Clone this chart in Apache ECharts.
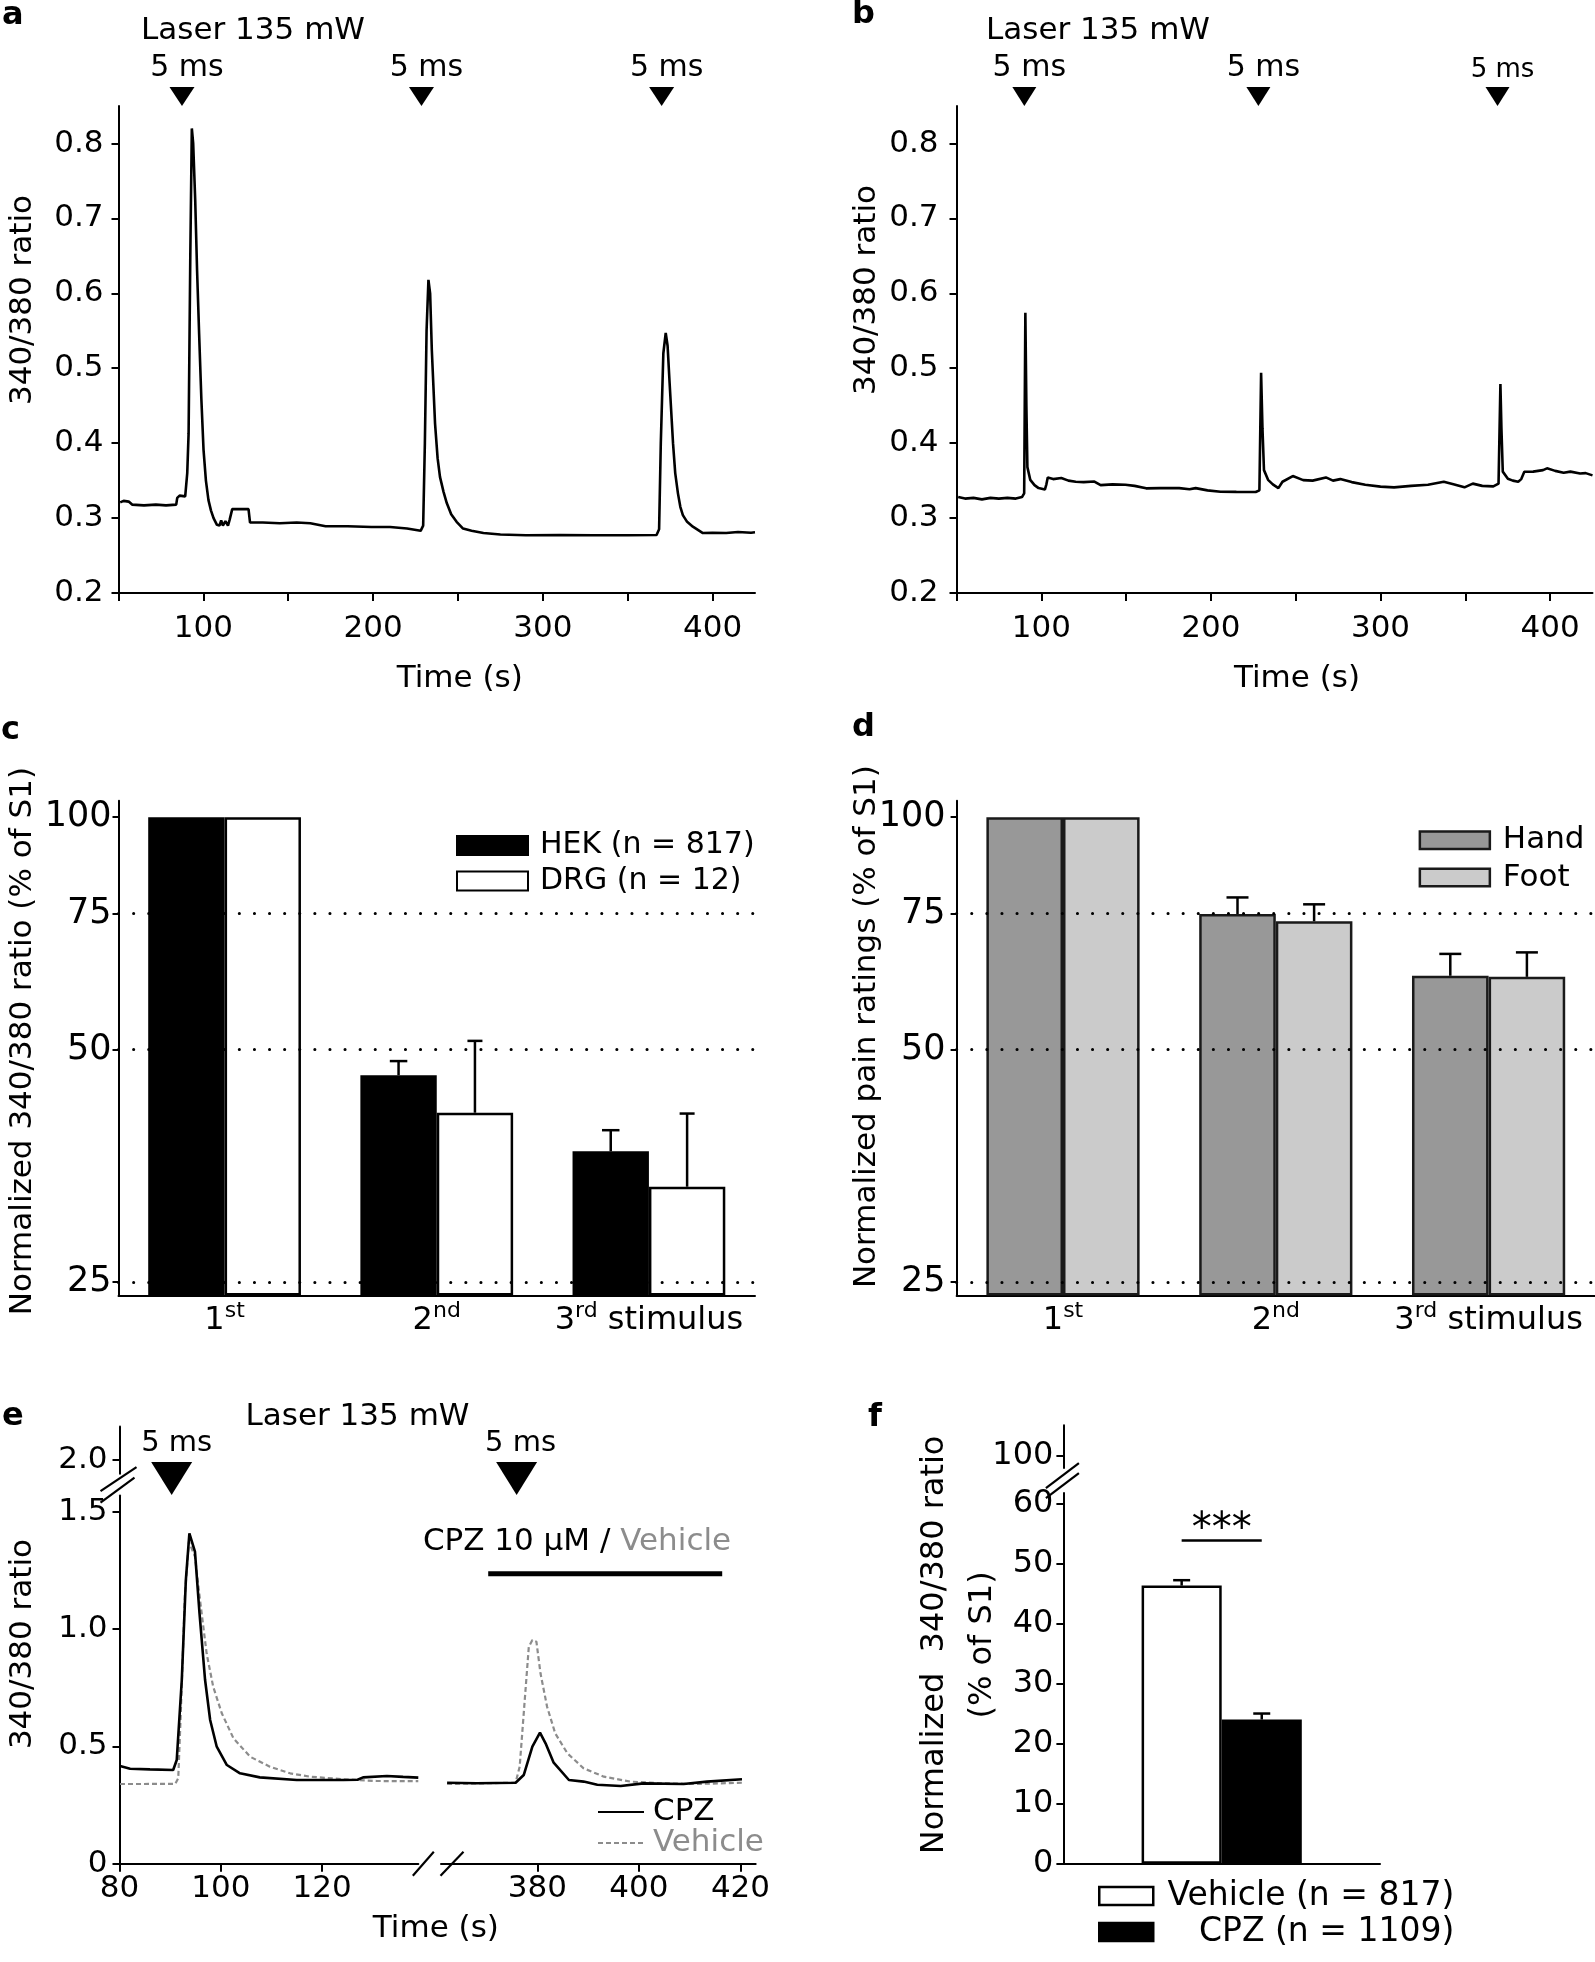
<!DOCTYPE html>
<html>
<head>
<meta charset="utf-8">
<title>Figure</title>
<script src="https://cdn.jsdelivr.net/npm/echarts@6.0.0/dist/echarts.min.js"></script>
<style>
html,body{margin:0;padding:0;background:#ffffff;}
#chart{width:1595px;height:1962px;}
</style>
</head>
<body>
<div id="chart"></div>
<script>
// ================= DATA =================
// Panel a: 340/380 ratio trace (time s, ratio)
const traceA = [[51,0.321],[53,0.323],[56,0.322],[58,0.318],[65,0.317],[72,0.318],[78,0.317],[84,0.318],[84.6,0.327],[86,0.330],[89.3,0.329],[90.5,0.36],[91.3,0.413],[92.3,0.65],[93.2,0.82],[94.0,0.80],[95.2,0.724],[96.3,0.63],[97.5,0.546],[98.8,0.46],[100.1,0.391],[101.5,0.35],[103,0.324],[104.5,0.31],[106,0.30],[108,0.291],[109.5,0.290],[110.5,0.297],[111.5,0.290],[113,0.296],[114.5,0.290],[115.5,0.298],[117,0.312],[126.6,0.312],[127.5,0.294],[135,0.294],[145,0.293],[155,0.294],[163,0.293],[172,0.289],[185,0.289],[199,0.288],[210,0.288],[220,0.286],[228,0.283],[229.5,0.29],[230.5,0.40],[231.5,0.55],[232.6,0.618],[233.6,0.60],[234.6,0.524],[236.5,0.426],[238,0.38],[239.4,0.355],[241.5,0.335],[243.4,0.32],[246,0.305],[249.2,0.295],[253,0.286],[258,0.283],[265,0.280],[275,0.278],[290,0.277],[310,0.2775],[330,0.277],[350,0.277],[367,0.2775],[368.5,0.285],[369.5,0.40],[371,0.52],[372.4,0.547],[373.5,0.53],[374.7,0.48],[376.7,0.40],[378,0.36],[379.6,0.333],[381,0.315],[382.5,0.304],[385,0.295],[388.4,0.2885],[394.3,0.280],[400,0.2805],[408,0.280],[415,0.2815],[422.7,0.2805],[425,0.281]];
const stimA = [87.4, 228.5, 370];

// Panel b
const traceB = [[51,0.328],[55,0.326],[60,0.327],[65,0.325],[70,0.327],[75,0.326],[80,0.327],[85,0.326],[88.6,0.328],[89.9,0.333],[90.6,0.574],[91.2,0.45],[91.8,0.368],[93.5,0.351],[96,0.344],[98.4,0.340],[102.1,0.338],[103.0,0.345],[103.8,0.354],[107,0.352],[111.8,0.3535],[116,0.350],[120.3,0.3485],[125,0.348],[131.3,0.3488],[135,0.344],[142,0.345],[149.6,0.3445],[155,0.343],[161.8,0.3397],[170,0.340],[181.3,0.340],[187.4,0.3384],[191,0.340],[198,0.337],[205.7,0.3352],[215,0.335],[226.4,0.3348],[228.6,0.337],[229.6,0.494],[230.4,0.42],[231.3,0.364],[233.7,0.351],[236.5,0.345],[239.8,0.340],[242.2,0.3485],[248.3,0.3561],[254.4,0.3507],[260,0.350],[267.8,0.3543],[272,0.350],[276.3,0.352],[283,0.348],[291,0.3445],[300,0.342],[308,0.341],[318,0.343],[328,0.3445],[337.3,0.3485],[343,0.345],[349.5,0.341],[354.4,0.346],[360,0.343],[366.5,0.3423],[369.6,0.346],[370.7,0.479],[371.3,0.42],[372.1,0.362],[375.1,0.3525],[378,0.350],[381.2,0.3485],[383,0.352],[384.8,0.3618],[390,0.362],[395.8,0.364],[398.2,0.3664],[403,0.363],[408,0.3605],[412,0.362],[417.7,0.3595],[421,0.360],[425,0.357]];
const stimB = [90, 228, 369];

const xTicksAB = [50, 100, 150, 200, 250, 300, 350, 400];
const xLabelsAB = [100, 200, 300, 400];
const yTicksAB = [0.2, 0.3, 0.4, 0.5, 0.6, 0.7, 0.8];

// Panels c, d
const stimuli = ['1st', '2nd', '3rd stimulus'];
const hek = [100, 46.3, 36.9];
const hekSem = [0, 2.0, 2.4];
const drg = [100, 41.4, 33.2];
const drgSem = [0, 9.9, 8.1];
const hand = [100, 74.9, 62.3];
const handSem = [0, 3.8, 4.2];
const foot = [100, 73.3, 62.1];
const footSem = [0, 3.8, 4.7];
const pctTicks = [25, 50, 75, 100];
const refLines = [25, 50, 75];

// Panel e
const cpzLeft = [[80.1,0.4165],[82.1,0.405],[86,0.402],[90.6,0.3994],[91.3,0.442],[92.3,0.783],[93.1,1.209],[93.8,1.408],[94.9,1.33],[95.8,1.067],[96.9,0.783],[97.9,0.6125],[99.2,0.4987],[101.2,0.4207],[103.8,0.3853],[107.7,0.368],[115,0.3568],[124.2,0.3568],[127,0.358],[128.1,0.368],[132.8,0.3738],[136,0.370],[139,0.367]];
const vehLeft = [[80.1,0.3397],[91,0.340],[91.6,0.364],[92.1,0.641],[92.9,1.138],[93.7,1.373],[94.9,1.309],[95.9,1.124],[97.2,0.897],[98.5,0.7545],[100.2,0.641],[102.5,0.5345],[105.8,0.456],[109.7,0.4135],[113.7,0.3853],[117.6,0.371],[124.2,0.360],[130.8,0.3525],[139,0.3518]];
const cpzRight = [[362.2,0.3453],[368,0.343],[375.7,0.3453],[377.3,0.378],[379,0.4987],[380.5,0.5584],[381.6,0.513],[383.2,0.4305],[386.2,0.3568],[389.1,0.350],[391.8,0.3368],[396.4,0.331],[400.9,0.3425],[408.8,0.340],[413.4,0.350],[420.3,0.3597]];
const vehRight = [[362.2,0.340],[368,0.342],[375.7,0.3453],[376.5,0.4135],[377.3,0.641],[378.3,0.925],[379,0.9535],[379.8,0.9464],[380.6,0.8116],[381.9,0.669],[383.5,0.5558],[385.9,0.4706],[389.1,0.4066],[393.1,0.3709],[398.3,0.350],[404.9,0.3425],[411.5,0.340],[420.3,0.345]];
const stimE = [90.3, 375.9];
const cpzPeriod = [370.3, 416.4];
const eXLeftTicks = [80, 100, 120];
const eXRightTicks = [380, 400, 420];
const eYTicks = [0, 0.5, 1, 1.5];
const eYTopTicks = [2];

// Panel f
const fGroups = ['Vehicle (n = 817)', 'CPZ (n = 1109)'];
const fMeans = [46.3, 24.0];
const fSem = [0.9, 1.0];
const fYTicks = [0, 10, 20, 30, 40, 50, 60];
const fYTopTicks = [100];
const fSig = '***';

// ================= STYLE / HELPERS =================
const F = 'DejaVu Sans';
const MARK_AB = 0.8627;   // marker row above the a/b plots (axis units)
const MARK_E = 1.642;     // marker row in panel e (axis units)
const BAR_E = 1.236;      // drug-application bar level in panel e
const SIG_LEVEL = 53.8;   // significance bracket level in panel f

function isObj(o) { return o && typeof o === 'object' && !Array.isArray(o); }
function merge(a, b) {
  const r = Object.assign({}, a);
  for (const k in b) {
    if (isObj(b[k]) && isObj(a[k])) r[k] = merge(a[k], b[k]);
    else r[k] = b[k];
  }
  return r;
}
const AXBASE = {
  axisLine: { show: true, onZero: false, lineStyle: { color: '#000', width: 2 } },
  axisTick: { show: true, inside: false, length: 7, lineStyle: { color: '#000', width: 2 } },
  axisLabel: { show: true, color: '#000', fontFamily: F, fontSize: 31 },
  splitLine: { show: false },
  splitArea: { show: false },
  minorTick: { show: false },
  nameTextStyle: { color: '#000', fontFamily: F, fontSize: 31 },
  nameMoveOverlap: false
};
function valAxis(o) { return merge(merge(AXBASE, { type: 'value' }), o); }
function logAxis(o) { return merge(merge(AXBASE, { type: 'log', logBase: 10 }), o); }
function catAxis(o) { return merge(merge(AXBASE, { type: 'category' }), o); }
function hidden(gi, mn, mx) { return { gridIndex: gi, type: 'value', min: mn, max: mx, show: false }; }

function supFmt(v) {
  const m = /^(\d)(st|nd|rd|th)(.*)$/.exec(v);
  if (!m) return v;
  return '{n|' + m[1] + '}{s|' + m[2] + '}' + (m[3] ? '{n|' + m[3] + '}' : '');
}
const SUPRICH = {
  n: { fontFamily: F, fontSize: 32, color: '#000', lineHeight: 40 },
  s: { fontFamily: F, fontSize: 22, color: '#000', lineHeight: 20, verticalAlign: 'top' }
};

function errRender(side, frac, capW) {
  return function (params, api) {
    const i = api.value(0), v = api.value(1), top = api.value(2);
    if (!(top > v)) return null;
    const band = api.size([1, 0], [i, v])[0];
    const p0 = api.coord([i, v]), p1 = api.coord([i, top]);
    const x = p0[0] + side * frac * band;
    return {
      type: 'group', children: [
        { type: 'line', shape: { x1: x, y1: p0[1], x2: x, y2: p1[1] }, style: { stroke: '#000', lineWidth: 2.5 } },
        { type: 'line', shape: { x1: x - capW / 2, y1: p1[1], x2: x + capW / 2, y2: p1[1] }, style: { stroke: '#000', lineWidth: 2.5 } }
      ]
    };
  };
}
function errData(vals, sems) { return vals.map((v, i) => [i, v, v + sems[i]]); }

function markerSeries(xi, yi, times, level, size, fontSizes, offX) {
  return {
    type: 'scatter', xAxisIndex: xi, yAxisIndex: yi, clip: false, silent: true,
    data: times.map((t, k) => ({ value: [t, level],
      label: { fontSize: fontSizes[k], lineHeight: fontSizes[k] } })),
    symbol: 'triangle', symbolRotate: 180, symbolSize: size,
    itemStyle: { color: '#000', opacity: 1 },
    label: { show: true, position: 'top', distance: 4, offset: [offX, 0], formatter: '5 ms',
      fontFamily: F, color: '#000' }
  };
}

const dotted = {
  silent: true, symbol: ['none', 'none'], label: { show: false }, z: 6,
  lineStyle: { color: '#000', width: 3, type: [0.1, 15], cap: 'round' },
  emphasis: { disabled: true },
  data: refLines.map(v => ({ yAxis: v }))
};

// ================= OPTION =================
const option = {
  animation: false,
  backgroundColor: '#ffffff',
  textStyle: { fontFamily: F },
  grid: [
    { left: 118.5, top: 106, width: 636.5, height: 487 },          // 0 a
    { left: 956.5, top: 106, width: 636, height: 487 },            // 1 b
    { left: 118.5, top: 800.8, width: 636.5, height: 494.7 },      // 2 c
    { left: 956.6, top: 800.8, width: 638.4, height: 494.7 },      // 3 d
    { left: 119.5, top: 1495.4, width: 298.8, height: 368.3 },     // 4 e lower left
    { left: 441, top: 1495.4, width: 314.7, height: 368.3 },       // 5 e lower right
    { left: 119.5, top: 1426.4, width: 40, height: 47.4 },         // 6 e upper
    { left: 1063.4, top: 1493.1, width: 316.6, height: 370.6 },    // 7 f lower
    { left: 1063.4, top: 1425.3, width: 40, height: 42.8 }         // 8 f upper
  ].map(g => Object.assign({ outerBoundsMode: 'none', containLabel: false }, g)),
  xAxis: [
    valAxis({ gridIndex: 0, min: 50, max: 425, axisTick: { customValues: xTicksAB, length: 8 },
      axisLabel: { customValues: xLabelsAB, margin: 20 },
      name: 'Time (s)', nameLocation: 'middle', nameGap: 70, nameTextStyle: { padding: [0, 0, 0, 46] } }),
    valAxis({ gridIndex: 1, min: 50, max: 425, axisTick: { customValues: xTicksAB, length: 8 },
      axisLabel: { customValues: xLabelsAB, margin: 20 },
      name: 'Time (s)', nameLocation: 'middle', nameGap: 70, nameTextStyle: { padding: [0, 0, 0, 45] } }),
    catAxis({ gridIndex: 2, data: stimuli, axisTick: { show: false },
      axisLabel: { interval: 0, formatter: supFmt, rich: SUPRICH, margin: 5 } }),
    catAxis({ gridIndex: 3, data: stimuli, axisTick: { show: false },
      axisLabel: { interval: 0, formatter: supFmt, rich: SUPRICH, margin: 5 } }),
    valAxis({ gridIndex: 4, min: 80, max: 139, axisTick: { customValues: eXLeftTicks, length: 8 },
      axisLabel: { customValues: eXLeftTicks, margin: 10 },
      name: 'Time (s)', nameLocation: 'middle', nameGap: 50, nameTextStyle: { padding: [0, 0, 0, 334] } }),
    valAxis({ gridIndex: 5, min: 361, max: 423, axisTick: { customValues: eXRightTicks, length: 8 },
      axisLabel: { customValues: eXRightTicks, margin: 10 } }),
    hidden(6, 0, 1),
    catAxis({ gridIndex: 7, data: [''], axisTick: { show: false }, axisLabel: { show: false } }),
    hidden(8, 0, 1)
  ],
  yAxis: [
    valAxis({ gridIndex: 0, min: 0.2, max: 0.85, axisTick: { customValues: yTicksAB },
      axisLabel: { customValues: yTicksAB, formatter: v => v.toFixed(1), margin: 15 },
      name: '340/380 ratio', nameLocation: 'middle', nameGap: 80, nameTextStyle: { padding: [0, 0, 0, 99] } }),
    valAxis({ gridIndex: 1, min: 0.2, max: 0.85, axisTick: { customValues: yTicksAB },
      axisLabel: { customValues: yTicksAB, formatter: v => v.toFixed(1), margin: 18 },
      name: '340/380 ratio', nameLocation: 'middle', nameGap: 74, nameTextStyle: { padding: [0, 0, 0, 119] } }),
    logAxis({ gridIndex: 2, min: 24, max: 105, startValue: 24, axisTick: { customValues: pctTicks, length: 6 },
      axisLabel: { customValues: pctTicks, margin: 7, fontSize: 35 },
      name: 'Normalized 340/380 ratio (% of S1)', nameLocation: 'middle', nameGap: 80, nameTextStyle: { padding: [0, 0, 0, 14] } }),
    logAxis({ gridIndex: 3, min: 24, max: 105, startValue: 24, axisTick: { customValues: pctTicks, length: 6 },
      axisLabel: { customValues: pctTicks, margin: 11, fontSize: 35 },
      name: 'Normalized pain ratings (% of S1)', nameLocation: 'middle', nameGap: 74, nameTextStyle: { padding: [0, 0, 0, 43] } }),
    valAxis({ gridIndex: 4, min: 0, max: 1.57, axisTick: { customValues: eYTicks },
      axisLabel: { customValues: eYTicks, formatter: v => (v === 0 ? '0' : v.toFixed(1)), margin: 12 },
      name: '340/380 ratio', nameLocation: 'middle', nameGap: 81, nameTextStyle: { padding: [0, 0, 0, 71] } }),
    hidden(5, 0, 1.57),
    valAxis({ gridIndex: 6, min: 1.94, max: 2.142, axisTick: { customValues: eYTopTicks },
      axisLabel: { customValues: eYTopTicks, formatter: v => v.toFixed(1), margin: 12 } }),
    valAxis({ gridIndex: 7, min: 0, max: 61.7, axisTick: { customValues: fYTicks },
      axisLabel: { customValues: fYTicks, margin: 10, fontSize: 32 },
      name: 'Normalized  340/380 ratio\n(% of S1)', nameLocation: 'middle', nameGap: 56,
      nameTextStyle: { fontSize: 32, lineHeight: 48.5, padding: [0, 0, 0, 67] } }),
    valAxis({ gridIndex: 8, min: 98, max: 105.13, axisTick: { customValues: fYTopTicks },
      axisLabel: { customValues: fYTopTicks, margin: 10, fontSize: 32 } })
  ],
  legend: [
    { data: ['HEK (n = 817)', 'DRG (n = 12)'], orient: 'vertical', left: 456, top: 830.5, padding: 0,
      icon: 'rect', itemWidth: 71, itemHeight: 19, itemGap: 5.5, selectedMode: false,
      itemStyle: { borderColor: '#000', borderWidth: 2 },
      textStyle: { fontFamily: F, fontSize: 30, color: '#000', lineHeight: 30, padding: [0, 0, 0, 7] } },
    { data: ['Hand', 'Foot'], orient: 'vertical', left: 1418.6, top: 824.8, padding: 0,
      icon: 'rect', itemWidth: 70, itemHeight: 17.5, itemGap: 6.2, selectedMode: false,
      itemStyle: { borderColor: '#1a1a1a', borderWidth: 2.5 },
      textStyle: { fontFamily: F, fontSize: 31, color: '#000', lineHeight: 30, padding: [0, 0, 0, 8] } },
    { data: [{ name: 'CPZ', textStyle: { color: '#000' } }, { name: 'Vehicle', textStyle: { color: '#8c8c8c' } }],
      orient: 'vertical', left: 597, top: 1796.5, padding: 0, itemWidth: 46, itemHeight: 14, itemGap: 0,
      selectedMode: false, itemStyle: { opacity: 0 },
      textStyle: { fontFamily: F, fontSize: 31, lineHeight: 27, padding: [0, 0, 0, 4] } },
    { data: fGroups, orient: 'vertical', left: 1098, top: 1878, padding: 0, icon: 'rect',
      itemWidth: 54, itemHeight: 18, itemGap: 0, selectedMode: false,
      itemStyle: { borderColor: '#000', borderWidth: 2.5 },
      formatter: name => '{r|' + name + '}',
      textStyle: { fontFamily: F, fontSize: 33, color: '#000', lineHeight: 36,
        rich: { r: { fontFamily: F, fontSize: 33, color: '#000', width: 296, align: 'right', lineHeight: 36 } } } }
  ],
  series: [
    // ---- a ----
    { type: 'line', xAxisIndex: 0, yAxisIndex: 0, data: traceA, symbol: 'none', showSymbol: false, silent: true,
      lineStyle: { color: '#000', width: 2.6 } },
    markerSeries(0, 0, stimA, MARK_AB, [25, 19], [30, 30, 30], 5),
    // ---- b ----
    { type: 'line', xAxisIndex: 1, yAxisIndex: 1, data: traceB, symbol: 'none', showSymbol: false, silent: true,
      lineStyle: { color: '#000', width: 2.6 } },
    markerSeries(1, 1, stimB, MARK_AB, [24, 19], [30, 30, 26], 5),
    // ---- c ----
    { type: 'bar', name: 'HEK (n = 817)', xAxisIndex: 2, yAxisIndex: 2, data: hek, barWidth: '36%', barGap: '0%',
      itemStyle: { color: '#000', borderColor: '#000', borderWidth: 2 }, markLine: dotted, silent: true },
    { type: 'bar', name: 'DRG (n = 12)', xAxisIndex: 2, yAxisIndex: 2, data: drg, barWidth: '36%', barGap: '0%',
      itemStyle: { color: '#fff', borderColor: '#000', borderWidth: 2.5 }, silent: true },
    { type: 'custom', xAxisIndex: 2, yAxisIndex: 2, data: errData(hek, hekSem), renderItem: errRender(-1, 0.18, 17.5), silent: true, z: 4 },
    { type: 'custom', xAxisIndex: 2, yAxisIndex: 2, data: errData(drg, drgSem), renderItem: errRender(1, 0.18, 15), silent: true, z: 4 },
    // ---- d ----
    { type: 'bar', name: 'Hand', xAxisIndex: 3, yAxisIndex: 3, data: hand, barWidth: '36%', barGap: '0%',
      itemStyle: { color: '#989898', borderColor: '#1a1a1a', borderWidth: 2.5 }, markLine: dotted, silent: true },
    { type: 'bar', name: 'Foot', xAxisIndex: 3, yAxisIndex: 3, data: foot, barWidth: '36%', barGap: '0%',
      itemStyle: { color: '#cbcbcb', borderColor: '#1a1a1a', borderWidth: 2.5 }, silent: true },
    { type: 'custom', xAxisIndex: 3, yAxisIndex: 3, data: errData(hand, handSem), renderItem: errRender(-1, 0.18, 22), silent: true, z: 4 },
    { type: 'custom', xAxisIndex: 3, yAxisIndex: 3, data: errData(foot, footSem), renderItem: errRender(1, 0.18, 22), silent: true, z: 4 },
    // ---- e ----
    { type: 'line', name: 'Vehicle', xAxisIndex: 4, yAxisIndex: 4, data: vehLeft, symbol: 'none', silent: true,
      itemStyle: { color: '#8c8c8c' }, lineStyle: { color: '#8c8c8c', width: 2.2, type: [5, 3] } },
    { type: 'line', name: 'CPZ', xAxisIndex: 4, yAxisIndex: 4, data: cpzLeft, symbol: 'none', silent: true,
      itemStyle: { color: '#000' }, lineStyle: { color: '#000', width: 2.6 } },
    { type: 'line', name: 'Vehicle', xAxisIndex: 5, yAxisIndex: 5, data: vehRight, symbol: 'none', silent: true,
      itemStyle: { color: '#8c8c8c' }, lineStyle: { color: '#8c8c8c', width: 2.2, type: [5, 3] } },
    { type: 'line', name: 'CPZ', xAxisIndex: 5, yAxisIndex: 5, data: cpzRight, symbol: 'none', silent: true,
      itemStyle: { color: '#000' }, lineStyle: { color: '#000', width: 2.6 } },
    { type: 'line', xAxisIndex: 5, yAxisIndex: 5, data: cpzPeriod.map(t => [t, BAR_E]), symbol: 'none', silent: true,
      itemStyle: { color: '#000' }, lineStyle: { color: '#000', width: 5 } },
    markerSeries(4, 4, [stimE[0]], MARK_E, [41, 33], [29], 5),
    markerSeries(5, 5, [stimE[1]], MARK_E, [41, 33], [29], 4),
    // ---- f ----
    { type: 'bar', name: fGroups[0], xAxisIndex: 7, yAxisIndex: 7, data: [fMeans[0]], barWidth: '25.3%', barGap: '0%',
      itemStyle: { color: '#fff', borderColor: '#000', borderWidth: 2.5 }, silent: true },
    { type: 'bar', name: fGroups[1], xAxisIndex: 7, yAxisIndex: 7, data: [fMeans[1]], barWidth: '25.3%', barGap: '0%',
      itemStyle: { color: '#000', borderColor: '#000', borderWidth: 2 }, silent: true },
    { type: 'custom', xAxisIndex: 7, yAxisIndex: 7, data: [[0, fMeans[0], fMeans[0] + fSem[0]]], renderItem: errRender(-1, 0.1265, 17), silent: true, z: 4 },
    { type: 'custom', xAxisIndex: 7, yAxisIndex: 7, data: [[0, fMeans[1], fMeans[1] + fSem[1]]], renderItem: errRender(1, 0.1265, 17), silent: true, z: 4 },
    { type: 'custom', xAxisIndex: 7, yAxisIndex: 7, clip: false, silent: true, z: 4,
      data: [[0, SIG_LEVEL]],
      renderItem: function (params, api) {
        const p = api.coord([api.value(0), api.value(1)]);
        const band = api.size([1, 0], [0, api.value(1)])[0];
        const x1 = p[0] - 0.1265 * band, x2 = p[0] + 0.1265 * band;
        return { type: 'group', children: [
          { type: 'line', shape: { x1: x1, y1: p[1], x2: x2, y2: p[1] }, style: { stroke: '#000', lineWidth: 2.5 } },
          { type: 'text', style: { text: fSig, x: p[0], y: p[1] + 10, align: 'center', verticalAlign: 'bottom',
            fontFamily: F, fontSize: 40, fill: '#000' } }
        ] };
      } }
  ]
};

const chart = echarts.init(document.getElementById('chart'), null, { renderer: 'canvas', width: 1595, height: 1962 });
chart.setOption(option);

// ================= DECORATIONS (text + axis breaks) =================
function px(gi, v) { return chart.convertToPixel({ gridIndex: gi }, v); }
function txt(s, x, y, size, extra) {
  return merge({ type: 'text', z: 50, silent: true,
    style: { text: s, x: x, y: y, fontFamily: F, fontSize: size, fill: '#000', align: 'center', verticalAlign: 'middle' } },
    extra || {});
}
function slash(cx, cy, hx, hy) {
  return { type: 'line', z: 50, silent: true,
    shape: { x1: cx - hx, y1: cy + hy, x2: cx + hx, y2: cy - hy }, style: { stroke: '#000', lineWidth: 2.2 } };
}
const gr = [];
const bold = { style: { fontWeight: 'bold', align: 'left' } };
gr.push(txt('a', 2, 16, 32, bold), txt('b', 852, 15, 32, bold), txt('c', 1, 731, 32, bold),
        txt('d', 852, 728, 32, bold), txt('e', 2, 1417, 32, bold), txt('f', 868, 1418, 32, bold));
gr.push(txt('Laser 135 mW', 253, 31, 31), txt('Laser 135 mW', 1098, 31, 31), txt('Laser 135 mW', 357.5, 1417, 31));
gr.push({ type: 'text', z: 50, silent: true, style: {
  text: '{b|CPZ 10 µM / }{g|Vehicle}', x: 577, y: 1542, align: 'center', verticalAlign: 'middle',
  rich: { b: { fontFamily: F, fontSize: 31, fill: '#000', color: '#000' }, g: { fontFamily: F, fontSize: 31, fill: '#8c8c8c', color: '#8c8c8c' } } } });
// axis breaks, e (y)
const eAxisX = px(6, [0, 2])[0];
const eLowTop = px(4, [80, 1.57])[1];
const eUpBot = px(6, [0, 1.94])[1];
const eMid = (eLowTop + eUpBot) / 2;
gr.push(slash(eAxisX - 1, eMid - 5.5, 18, 12), slash(eAxisX - 2, eMid + 5.5, 17, 12.5));
// axis breaks, e (x)
const eLeftEnd = px(4, [139, 0]);
const eRightStart = px(5, [361, 0]);
gr.push(slash(eLeftEnd[0] + 5, eLeftEnd[1], 10.5, 12), slash(eRightStart[0] + 11, eRightStart[1], 11.5, 12));
// axis breaks, f (y)
const fAxisX = px(8, [0, 100])[0];
const fLowTop = px(7, [0, 61.7])[1];
const fUpBot = px(8, [0, 98])[1];
const fMid = (fLowTop + fUpBot) / 2;
gr.push(slash(fAxisX - 1, fMid - 5, 16.5, 12.5), slash(fAxisX - 1, fMid + 5, 16.5, 12.5));
chart.setOption({ graphic: gr });
</script>
</body>
</html>
